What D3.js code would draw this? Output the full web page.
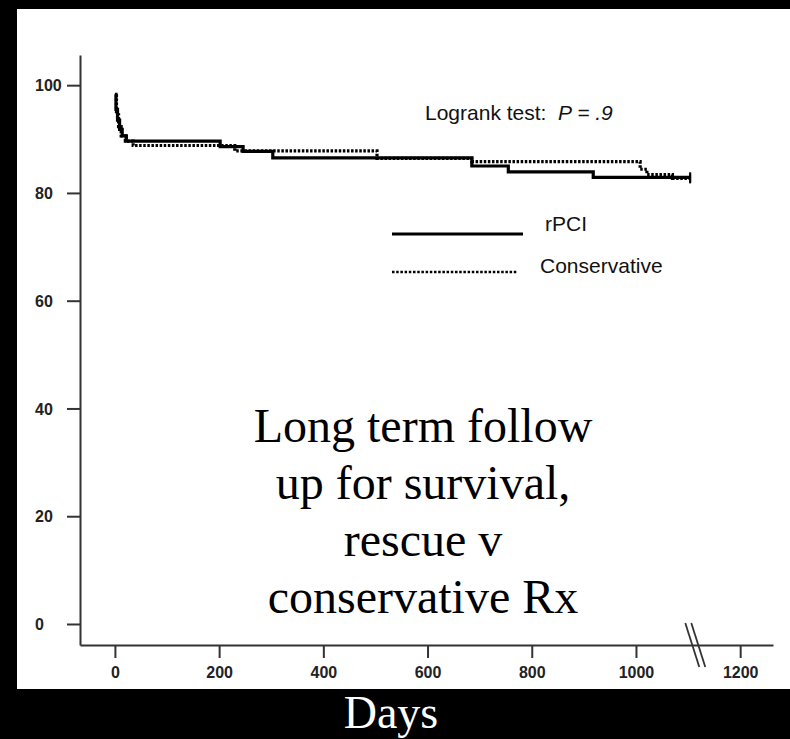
<!DOCTYPE html>
<html lang="en">
<head>
  <meta charset="UTF-8">
  <title>Long term follow up for survival</title>
  <script src="https://d3js.org/d3.v7.min.js"></script>
  <style>
    html, body { margin: 0; padding: 0; background: #000; }
    svg { display: block; }
  </style>
</head>
<body>
  <div id="chart"></div>
  <script>
    // Kaplan-Meier curves (days, % surviving)
    const rpciDays = [0, 2, 5, 9, 14, 22, 202, 246, 303, 685, 755, 918, 1104];
    const rpciSurv = [98.3, 95.5, 93.5, 91.8, 90.6, 89.6, 88.6, 87.7, 86.5, 85.0, 83.9, 82.9, 82.9];

    const consDays = [0, 3, 7, 12, 20, 35, 230, 503, 685, 1008, 1021, 1070, 1104];
    const consSurv = [98.0, 94.5, 92.3, 90.6, 89.6, 88.8, 87.8, 86.4, 85.8, 84.4, 83.4, 82.7, 82.7];

    const xTicks = [0, 200, 400, 600, 800, 1000, 1200];
    const yTicks = [0, 20, 40, 60, 80, 100];

    const seriesNames = ["rPCI", "Conservative"];
    const logrankLabel = "Logrank test:  ";
    const logrankP = "P = .9";
    const overlayLines = ["Long term follow", "up for survival,", "rescue v", "conservative Rx"];
    const xTitle = "Days";

    const width = 790, height = 739;

    const svg = d3.select("#chart")
      .append("svg")
      .attr("width", width)
      .attr("height", height);

    // black frame, white panel
    svg.append("rect").attr("width", width).attr("height", height).attr("fill", "#000");
    svg.append("rect")
      .attr("x", 17).attr("y", 9)
      .attr("width", 773).attr("height", 680)
      .attr("fill", "#fff");

    const x = d3.scaleLinear().domain([-67, 1263]).range([80, 773]);
    const y = d3.scaleLinear().domain([-3.9, 105.6]).range([645, 55]);

    const tickFont = "'Liberation Sans', Arial, sans-serif";

    // x axis
    const gx = svg.append("g")
      .attr("transform", "translate(0,645)")
      .call(d3.axisBottom(x).tickValues(xTicks).tickFormat(d3.format("d"))
        .tickSize(13).tickSizeOuter(0));
    gx.select(".domain").attr("stroke", "#333").attr("stroke-width", 2);
    gx.selectAll(".tick line").attr("stroke", "#333").attr("stroke-width", 2);
    gx.selectAll(".tick text")
      .attr("y", 33).attr("dy", 0)
      .attr("fill", "#222")
      .style("font-family", tickFont)
      .style("font-size", "16px")
      .style("font-weight", "bold");

    // y axis
    const gy = svg.append("g")
      .attr("transform", "translate(80,0)")
      .call(d3.axisLeft(y).tickValues(yTicks).tickFormat(d3.format("d"))
        .tickSize(13).tickSizeOuter(0));
    gy.select(".domain").attr("stroke", "#333").attr("stroke-width", 2);
    gy.selectAll(".tick line").attr("stroke", "#333").attr("stroke-width", 2);
    gy.selectAll(".tick text")
      .attr("x", -45).attr("dy", "0.36em")
      .attr("text-anchor", "start")
      .attr("fill", "#222")
      .style("font-family", tickFont)
      .style("font-size", "16px")
      .style("font-weight", "bold");

    // axis break marks between 1000 and 1200
    const breakDay = 1110;
    [0, 6].forEach(off => {
      svg.append("line")
        .attr("x1", x(breakDay) - 8 + off).attr("y1", 623)
        .attr("x2", x(breakDay) + 6 + off).attr("y2", 667)
        .attr("stroke", "#333").attr("stroke-width", 1.8);
    });

    // survival curves
    const line = d3.line()
      .x(d => x(d[0]))
      .y(d => y(d[1]))
      .curve(d3.curveStepAfter);

    const rpci = rpciDays.map((d, i) => [d, rpciSurv[i]]);
    const cons = consDays.map((d, i) => [d, consSurv[i]]);

    svg.append("path")
      .datum(cons)
      .attr("d", line)
      .attr("fill", "none")
      .attr("stroke", "#000")
      .attr("stroke-width", 3.2)
      .attr("stroke-dasharray", "2.5,1.6");

    svg.append("path")
      .datum(rpci)
      .attr("d", line)
      .attr("fill", "none")
      .attr("stroke", "#000")
      .attr("stroke-width", 3.2);

    // censor cross at the end of follow up
    [rpci[rpci.length - 1], cons[cons.length - 1]].forEach(p => {
      svg.append("line")
        .attr("x1", x(p[0])).attr("x2", x(p[0]))
        .attr("y1", y(p[1]) - 5).attr("y2", y(p[1]) + 5)
        .attr("stroke", "#000").attr("stroke-width", 2);
    });

    // logrank text
    const lr = svg.append("text")
      .attr("x", 425).attr("y", 120)
      .attr("fill", "#111")
      .style("font-family", tickFont)
      .style("font-size", "21px")
      .attr("xml:space", "preserve");
    lr.append("tspan").text(logrankLabel);
    lr.append("tspan").style("font-style", "italic").text(logrankP);

    // legend
    const legend = [
      { name: seriesNames[0], y: 234, dash: null, tx: 545, ty: 231 },
      { name: seriesNames[1], y: 272, dash: "2.5,1.7", tx: 540, ty: 273 }
    ];
    legend.forEach(l => {
      svg.append("line")
        .attr("x1", 392).attr("x2", l.dash ? 518 : 523)
        .attr("y1", l.y).attr("y2", l.y)
        .attr("stroke", "#000")
        .attr("stroke-width", l.dash ? 2.5 : 3)
        .attr("stroke-dasharray", l.dash);
      svg.append("text")
        .attr("x", l.tx).attr("y", l.ty)
        .attr("fill", "#111")
        .style("font-family", tickFont)
        .style("font-size", "21px")
        .text(l.name);
    });

    // overlay caption
    svg.append("g").selectAll("text")
      .data(overlayLines)
      .join("text")
      .attr("x", 423)
      .attr("y", (d, i) => 442 + i * 57)
      .attr("text-anchor", "middle")
      .attr("fill", "#000")
      .style("font-family", "'Liberation Serif', 'Times New Roman', serif")
      .style("font-size", "48px")
      .text(d => d);

    // x title on the black band
    svg.append("text")
      .attr("x", 391).attr("y", 728)
      .attr("text-anchor", "middle")
      .attr("fill", "#fff")
      .style("font-family", "'Liberation Serif', 'Times New Roman', serif")
      .style("font-size", "46px")
      .text(xTitle);
  </script>
</body>
</html>
